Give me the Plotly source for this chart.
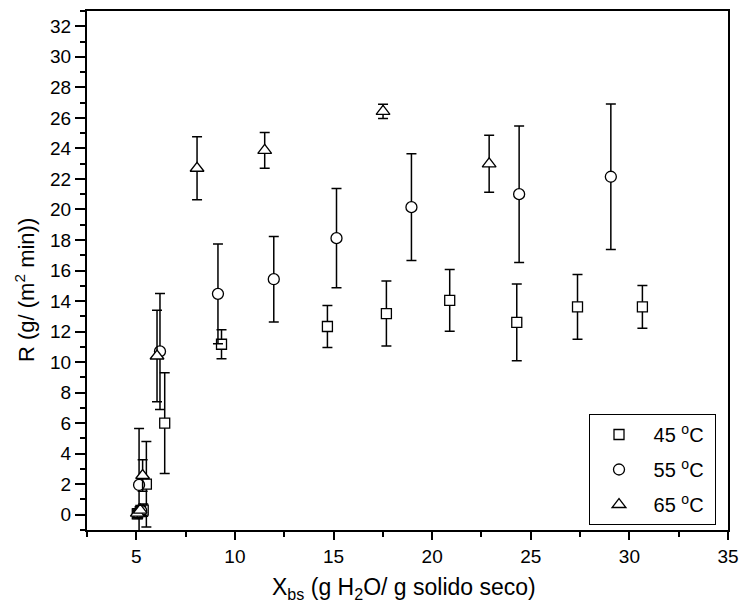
import plotly.graph_objects as go

# 45 °C (squares)
x45 = [5.05, 5.2, 5.35, 5.51, 6.44, 9.32, 14.69, 17.68, 20.89, 24.29, 27.37, 30.66]
y45 = [0.05, 0.2, 0.3, 2.0, 6.0, 11.17, 12.33, 13.18, 14.04, 12.6, 13.62, 13.62]
e45 = [0.3, 0.3, 0.4, 2.8, 3.3, 0.95, 1.37, 2.13, 2.02, 2.52, 2.12, 1.4]

# 55 °C (circles)
x55 = [5.1, 5.25, 5.14, 6.2, 9.14, 11.97, 15.15, 18.95, 24.41, 29.06]
y55 = [0.1, 0.25, 1.95, 10.7, 14.47, 15.43, 18.12, 20.15, 21.0, 22.14]
e55 = [0.3, 0.3, 3.7, 3.8, 3.27, 2.8, 3.25, 3.5, 4.47, 4.77]

# 65 °C (triangles)
x65 = [5.05, 5.2, 5.32, 6.05, 8.08, 11.51, 17.51, 22.89]
y65 = [0.1, 0.3, 2.57, 10.4, 22.7, 23.87, 26.42, 22.99]
e65 = [0.3, 0.3, 1.03, 3.0, 2.07, 1.17, 0.47, 1.87]

names = ["45 <sup>o</sup>C", "55 <sup>o</sup>C", "65 <sup>o</sup>C"]
symbols = ["square", "circle", "triangle-up"]
sizes = [10, 11, 12]

FONT = "Liberation Sans, Arial, sans-serif"

fig = go.Figure()
for xs, ys, es, nm, sym, sz in zip([x45, x55, x65], [y45, y55, y65], [e45, e55, e65],
                                   names, symbols, sizes):
    fig.add_trace(go.Scatter(
        x=xs, y=ys, mode="markers", name=" " + nm + " ",
        marker=dict(symbol=sym, size=sz, color="white",
                    line=dict(color="black", width=1.3)),
        error_y=dict(type="data", array=es, visible=True, color="black",
                     thickness=1.5, width=5),
        legendgroup=nm,
    ))

fig.update_layout(
    template="none",
    width=742, height=605,
    margin=dict(l=87, r=14, t=11, b=75),
    plot_bgcolor="white", paper_bgcolor="white",
    font=dict(family=FONT, color="black", size=19),
    showlegend=True,
    legend=dict(x=(589 - 87) / 641, y=(530 - 414) / 519, xanchor="left", yanchor="top",
                bordercolor="black", borderwidth=1, bgcolor="white",
                font=dict(size=20), tracegroupgap=6, itemwidth=48),
)
axis_common = dict(showgrid=False, zeroline=False, showline=True, linecolor="black",
                   linewidth=2, mirror=True, ticks="outside", tickwidth=2,
                   tickcolor="black", automargin=False, tickfont=dict(size=19))
fig.update_xaxes(range=[2.5, 35], dtick=5, tick0=0, ticklen=8,
                 minor=dict(dtick=2.5, tick0=0, ticks="outside", ticklen=5,
                            tickwidth=2, tickcolor="black"),
                 **axis_common)
fig.update_yaxes(range=[-1, 33], dtick=2, tick0=0, ticklen=10,
                 minor=dict(dtick=1, tick0=0, ticks="outside", ticklen=5,
                            tickwidth=2, tickcolor="black"),
                 **axis_common)

fig.add_annotation(text="X<sub>bs</sub> (g H<sub>2</sub>O/ g solido seco)",
                   xref="paper", yref="paper", x=(404 - 87) / 641, y=-(588 - 530) / 519,
                   xanchor="center", yanchor="middle", showarrow=False,
                   font=dict(size=23))
fig.add_annotation(text="R (g/ (m<sup>2</sup> min))",
                   xref="paper", yref="paper", x=-(87 - 25) / 641, y=(530 - 290) / 519,
                   xanchor="center", yanchor="middle", showarrow=False,
                   textangle=-90, font=dict(size=22))

fig.write_html("out.html", config={"displayModeBar": False},
               post_script="document.body.style.margin='0px';")
